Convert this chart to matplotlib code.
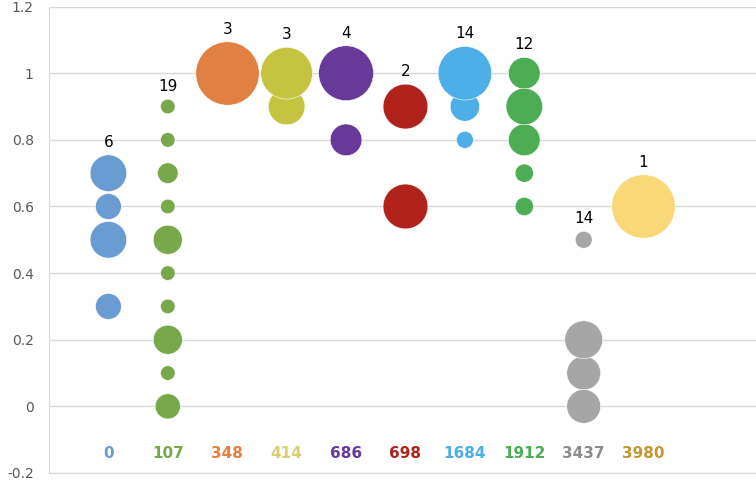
import numpy as np
import matplotlib.pyplot as plt

# categories along the x axis
categories = ["0", "107", "348", "414", "686", "698", "1684", "1912", "3437", "3980"]
totals = [6, 19, 3, 3, 4, 2, 14, 12, 14, 1]

# per category: y values and how many items sit at each value
y_vals = [
    [0.7, 0.6, 0.5, 0.3],
    [0.9, 0.8, 0.7, 0.6, 0.5, 0.4, 0.3, 0.2, 0.1, 0.0],
    [1.0],
    [1.0, 0.9],
    [1.0, 0.8],
    [0.9, 0.6],
    [1.0, 0.9, 0.8],
    [1.0, 0.9, 0.8, 0.7, 0.6],
    [0.5, 0.2, 0.1, 0.0],
    [0.6],
]
counts = [
    [2, 1, 2, 1],
    [1, 1, 2, 1, 4, 1, 1, 4, 1, 3],
    [3],
    [2, 1],
    [3, 1],
    [1, 1],
    [10, 3, 1],
    [3, 4, 3, 1, 1],
    [1, 5, 4, 4],
    [1],
]

bubble_colors = ["#6A9BD1", "#77A84A", "#E08043", "#C5C440", "#673A9A",
                 "#B0231C", "#4DAEE8", "#4CAD55", "#A6A6A6", "#F9D877"]
label_colors = ["#6A9BD1", "#77A84A", "#E08043", "#D6D070", "#673A9A",
                "#B0231C", "#4DAEE8", "#4CAD55", "#8C8C8C", "#C4962E"]

DPI = 100
R_FULL_PX = 31.7  # bubble radius (px) for a share of 1.0

fig = plt.figure(figsize=(7.56, 4.82), dpi=DPI)
ax = fig.add_axes([0.0648, 0.0187, 0.9352, 0.9676])

for i, (ys, cs) in enumerate(zip(y_vals, counts)):
    x = i + 1
    share = np.array(cs) / totals[i]
    r_pt = R_FULL_PX * np.sqrt(share) * 72 / DPI
    order = np.argsort(share)
    ax.scatter(np.full(len(ys), x)[order], np.array(ys)[order],
               s=(2 * r_pt[order]) ** 2, color=bubble_colors[i],
               edgecolors="white", linewidths=0.4, zorder=3)
    top = int(np.argmax(ys))
    ax.annotate(str(totals[i]), (x, ys[top]), xytext=(0, r_pt[top] + 9),
                textcoords="offset points", ha="center", va="center",
                fontsize=11, color="black", zorder=4)
    ax.text(x, -0.141, categories[i], ha="center", va="center",
            fontsize=11, fontweight="bold", color=label_colors[i],
            family="Liberation Sans Narrow")

ax.set_xlim(0, 11.9)
ax.set_ylim(-0.2, 1.2)
ax.set_yticks(np.arange(-0.2, 1.21, 0.2))
ax.set_yticklabels(["-0.2", "0", "0.2", "0.4", "0.6", "0.8", "1", "1.2"])
ax.set_xticks([])
ax.tick_params(axis="y", length=0, labelsize=10, labelcolor="#595959", pad=11)
ax.grid(axis="y", color="#D9D9D9", linewidth=1)
ax.set_axisbelow(True)
for side in ["top", "right"]:
    ax.spines[side].set_visible(False)
for side in ["left", "bottom"]:
    ax.spines[side].set_color("#D9D9D9")

plt.savefig("out.png", dpi=DPI)
